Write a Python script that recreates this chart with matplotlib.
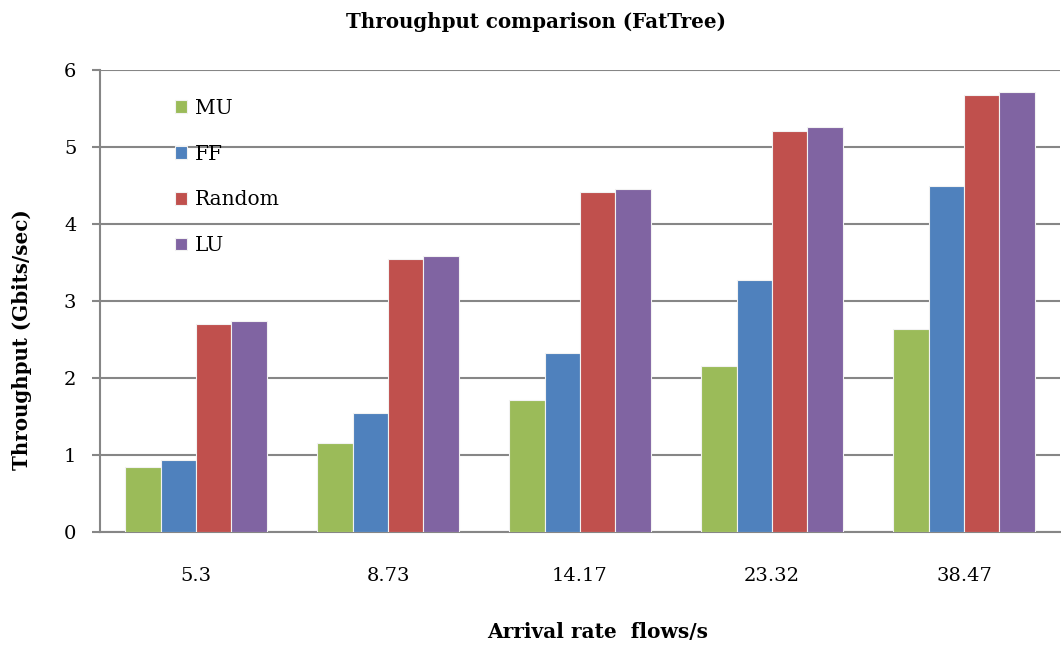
"""
Throughput comparison (FatTree) — grouped bar chart
"""
import numpy as np
import matplotlib
matplotlib.use("Agg")
import matplotlib.pyplot as plt

# -----------------------------------------------------------------------------
# Data
# -----------------------------------------------------------------------------
arrival_rates = ["5.3", "8.73", "14.17", "23.32", "38.47"]
series_names  = ["MU", "FF", "Random", "LU"]
mu_vals     = [0.85, 1.16, 1.71, 2.16, 2.64]
ff_vals     = [0.94, 1.54, 2.32, 3.27, 4.50]
random_vals = [2.70, 3.55, 4.41, 5.21, 5.68]
lu_vals     = [2.74, 3.59, 4.46, 5.26, 5.72]
colors = ["#9BBB59", "#4F81BD", "#C0504D", "#8064A2"]

plt.rcParams["font.family"] = ["DejaVu Serif"]

W, H = 1061, 645
fig = plt.figure(figsize=(W / 100, H / 100), dpi=100)
ax = fig.add_axes([100 / W, 1 - 532 / H, 960 / W, 462 / H])

x = np.arange(len(arrival_rates))
width = 0.184
all_vals = [mu_vals, ff_vals, random_vals, lu_vals]
for i, (name, vals, c) in enumerate(zip(series_names, all_vals, colors)):
    ax.bar(x + (i - 1.5) * width, vals, width, color=c, label=name,
           edgecolor="#F2F2F2", linewidth=0.8, zorder=3)

ax.set_xlim(-0.5, len(arrival_rates) - 0.5)
ax.set_ylim(0, 6)
ax.set_yticks(range(0, 7))
ax.set_xticks(x)
ax.set_xticklabels(arrival_rates)
ax.yaxis.grid(True, color="#868686", linewidth=1.5, zorder=0)
ax.set_axisbelow(True)

for side in ["top", "right"]:
    ax.spines[side].set_visible(False)
for side in ["left", "bottom"]:
    ax.spines[side].set_color("#868686")
    ax.spines[side].set_linewidth(1.5)

ax.tick_params(axis="y", length=6, width=1.5, color="#868686", labelsize=14, pad=11)
ax.tick_params(axis="x", length=0, labelsize=14, pad=25)

# axis titles and chart title placed in figure pixels, like the reference
fig.text(22 / W, 1 - 340 / H, "Throughput (Gbits/sec)", rotation=90,
         ha="center", va="center", fontsize=14.3, fontweight="bold")
fig.text(598 / W, 1 - 632 / H, "Arrival rate  flows/s",
         ha="center", va="center", fontsize=14.5, fontweight="bold")
fig.text(536 / W, 1 - 22 / H, "Throughput comparison (FatTree)",
         ha="center", va="center", fontsize=14.3, fontweight="bold")

ax.legend(loc="upper left", bbox_to_anchor=(0.059, 0.977), frameon=False,
          fontsize=14.5, handlelength=0.6, handleheight=0.6, handletextpad=0.4,
          labelspacing=1.33)

fig.savefig("out.png", dpi=100)
